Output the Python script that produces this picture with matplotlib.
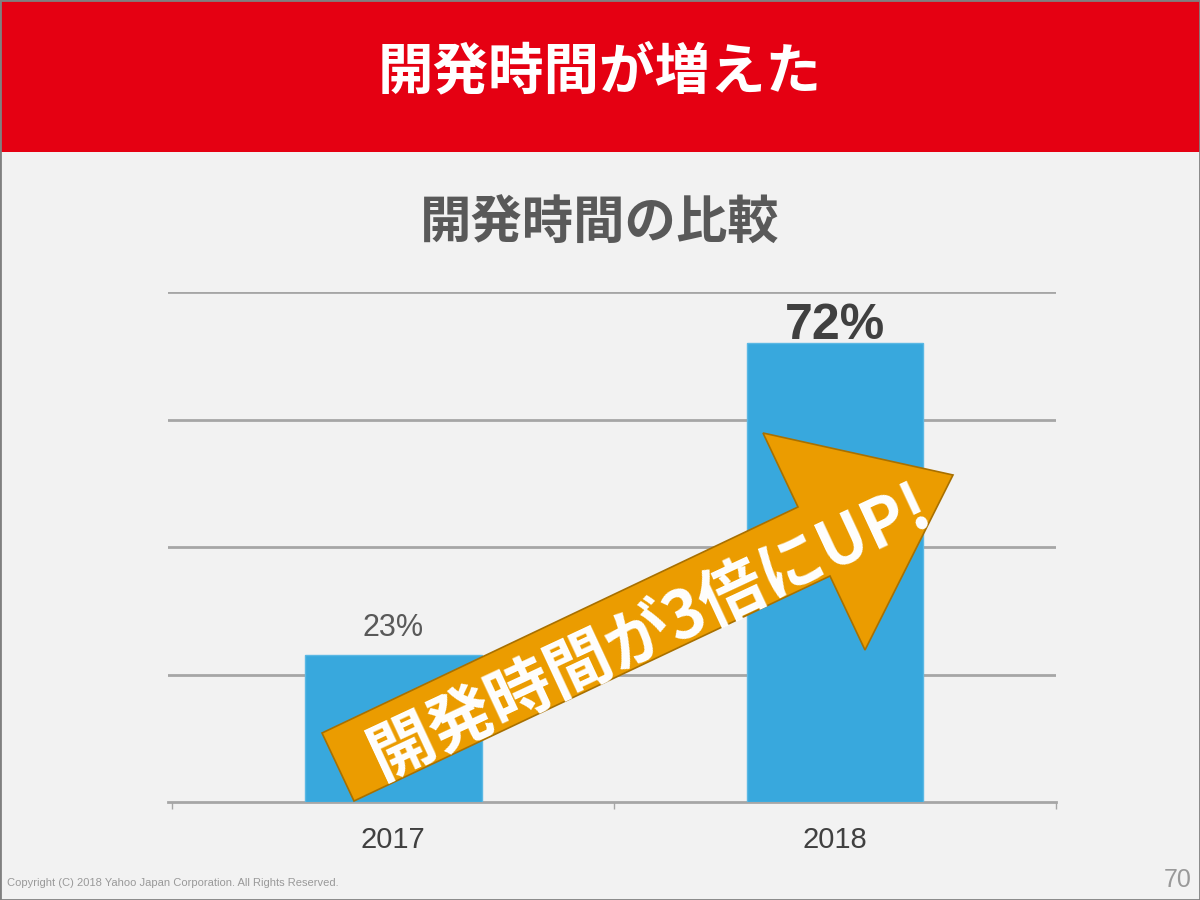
import matplotlib
matplotlib.use('Agg')
import matplotlib.pyplot as plt
from matplotlib.patches import Rectangle, Polygon

plt.rcParams['font.family'] = ['Noto Sans CJK JP', 'DejaVu Sans']

# データ
years = ['2017', '2018']
ratio = [23, 72]
labels = ['23%', '72%']
slide_title = '開発時間が増えた'
chart_title = '開発時間の比較'
arrow_text = '開発時間が3倍にUP!'

W, H = 1200, 900
fig = plt.figure(figsize=(12, 9), dpi=100)
fig.patch.set_facecolor('#f2f2f2')

def fx(px):
    return px / W

def fy(py):
    return 1 - py / H

# 赤い帯
fig.patches.append(Rectangle((0, fy(152)), 1, 152 / H, transform=fig.transFigure,
                             facecolor='#e50012', edgecolor='none', zorder=0))
fig.text(0.5, fy(72), slide_title, color='white', fontsize=40, fontweight='bold',
         ha='center', va='center')

# 枠線
fig.patches.append(Rectangle((0, 0), 1, 1, transform=fig.transFigure,
                             facecolor='none', edgecolor='#808080', lw=2, zorder=10))

fig.text(0.5, fy(223), chart_title, color='#595959', fontsize=37, fontweight='bold',
         ha='center', va='center')

# グラフ
ax = fig.add_axes([fx(168), fy(802), (1056 - 168) / W, (802 - 292) / H])
ax.set_facecolor('none')
x = range(len(years))
ax.bar(x, ratio, width=0.4, color='#38a8dd', edgecolor='#5bb8e4', lw=1, zorder=3)
ax.set_xlim(-0.51, 1.5)
ax.set_ylim(0, 80)
ax.set_yticks([20, 40, 60, 80])
ax.yaxis.grid(True, color='#a6a6a6', lw=2)
ax.set_axisbelow(True)
ax.tick_params(axis='y', left=False, labelleft=False)
for s in ['top', 'right', 'left']:
    ax.spines[s].set_visible(False)
ax.spines['bottom'].set_color('#a6a6a6')
ax.spines['bottom'].set_linewidth(2)
ax.set_xticks([-0.5, 0.5, 1.5])
ax.set_xticklabels([])
ax.tick_params(axis='x', length=5, color='#a6a6a6', width=1)
for i, y in enumerate(years):
    ax.text(i, -3.8, y, ha='center', va='top', fontsize=21, color='#404040',
            family='Liberation Sans')

ax.text(0, ratio[0] + 2, labels[0], ha='center', va='bottom', fontsize=22,
        color='#595959', family='Liberation Sans')
ax.text(1, ratio[1] + 0.7, labels[1], ha='center', va='baseline', fontsize=36,
        color='#404040', fontweight='bold', family='Liberation Sans')

# 矢印
pts = [(354, 801), (322, 733), (798, 507), (763, 433), (953, 475), (865, 650), (830, 576)]
arrow = Polygon([(fx(a), fy(b)) for a, b in pts], closed=True, transform=fig.transFigure,
                facecolor='#eb9c00', edgecolor='#a87000', lw=1.2, zorder=5)
fig.patches.append(arrow)
fig.text(fx(650), fy(632), arrow_text, color='white', fontsize=47, fontweight='bold',
         ha='center', va='center', rotation=25, rotation_mode='anchor', zorder=6)

# フッター
fig.text(fx(7), fy(883), 'Copyright (C) 2018 Yahoo Japan Corporation. All Rights Reserved.',
         fontsize=8, color='#999999', ha='left', va='center', family='Liberation Sans')
fig.text(fx(1192), fy(880), '70', fontsize=18, color='#999999', ha='right', va='center',
         family='Liberation Sans')

fig.savefig('out.png', dpi=100, facecolor=fig.get_facecolor())
